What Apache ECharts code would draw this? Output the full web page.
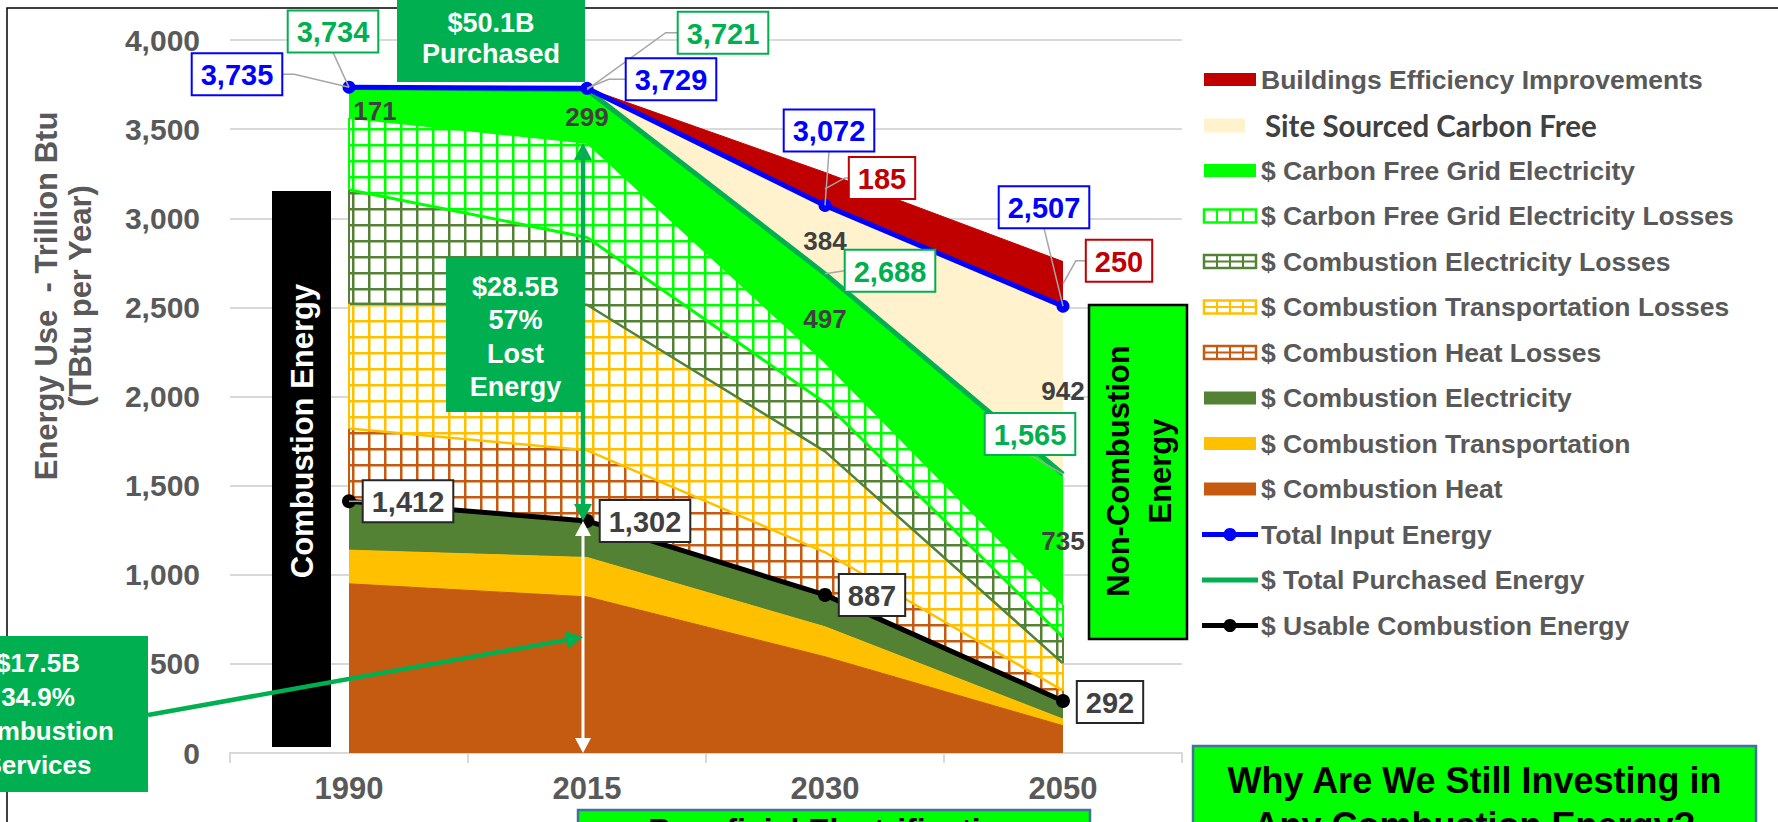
<!DOCTYPE html>
<html>
<head>
<meta charset="utf-8">
<title>Energy Use - Trillion Btu</title>
<script src="https://cdn.jsdelivr.net/npm/echarts/dist/echarts.min.js"></script>
<style>
  html, body { margin: 0; padding: 0; background: #ffffff; overflow: hidden; }
  #chart { width: 1778px; height: 822px; }
</style>
</head>
<body>
<div id="chart"></div>
<script>
// ---------- data (TBtu per year) ----------
const years = ['1990', '2015', '2030', '2050'];
const yAxisMin = 0;
const yAxisMax = 4000;
const yAxisStep = 500;

const combustionHeat = [949, 876, 540, 153];
const combustionTransportation = [189, 221, 168, 37];
const combustionElectricity = [274, 205, 179, 102];
const combustionHeatLosses = [408, 396, 239, 58];
const combustionTransportationLosses = [701, 817, 566, 153];
const combustionElectricityLosses = [639, 377, 273, 147];
const carbonFreeGridElectricityLosses = [403, 530, 226, 180];
const carbonFreeGridElectricity = [171, 299, 497, 735];
const siteSourcedCarbonFree = [1, 8, 384, 942];
const buildingsEfficiencyImprovements = [0, 0, 185, 250];

const totalInputEnergy = [3735, 3729, 3072, 2507];
const totalPurchasedEnergy = [3734, 3721, 2688, 1565];
const usableCombustionEnergy = [1412, 1302, 887, 292];

// ---------- styling ----------
const FONT = '"Liberation Sans", Arial, Helvetica, sans-serif';
const GRAY = '#595959';
const LABEL_DARK = '#404040';
const C = {
  heat: '#C55A11', transport: '#FFC000', elec: '#548235',
  cfGreen: '#00FF00', purchased: '#00B050', site: '#FFF2CC',
  red: '#C00000', blue: '#0000FF', black: '#000000', boxEdge: '#41719C'
};

const RENDERER = 'svg';

// square-grid hatch used by the "losses" layers (drawn at 2x, shown at 16px)
function hatchPattern(color) {
  const s = 32;
  const cv = document.createElement('canvas');
  cv.width = s; cv.height = s;
  const g = cv.getContext('2d');
  g.fillStyle = '#ffffff'; g.fillRect(0, 0, s, s);
  g.fillStyle = color;
  g.fillRect(0, 0, s, 5);
  g.fillRect(0, 0, 5, s);
  if (RENDERER === 'svg') {
    return { image: cv.toDataURL(), repeat: 'repeat', imageWidth: 16, imageHeight: 16 };
  }
  return { image: cv, repeat: 'repeat' };
}

// stacked layers, bottom to top
const layers = [
  { name: '$ Combustion Heat', values: combustionHeat, fill: C.heat, edge: C.heat, edgeWidth: 1 },
  { name: '$ Combustion Transportation', values: combustionTransportation, fill: C.transport, edge: C.transport, edgeWidth: 1 },
  { name: '$ Combustion Electricity', values: combustionElectricity, fill: C.elec, edge: C.elec, edgeWidth: 1 },
  { name: '$ Combustion Heat Losses', values: combustionHeatLosses, hatch: C.heat, edge: C.transport, edgeWidth: 2.5 },
  { name: '$ Combustion Transportation Losses', values: combustionTransportationLosses, hatch: C.transport, edge: C.elec, edgeWidth: 2.5 },
  { name: '$ Combustion Electricity Losses', values: combustionElectricityLosses, hatch: C.elec, edge: C.cfGreen, edgeWidth: 3 },
  { name: '$ Carbon Free Grid Electricity Losses', values: carbonFreeGridElectricityLosses, hatch: C.cfGreen, edge: C.cfGreen, edgeWidth: 1.5 },
  { name: '$ Carbon Free Grid Electricity', values: carbonFreeGridElectricity, fill: C.cfGreen, edge: C.cfGreen, edgeWidth: 1 },
  { name: 'Site Sourced Carbon Free', values: siteSourcedCarbonFree, fill: C.site, edge: C.site, edgeWidth: 1 },
  { name: 'Buildings Efficiency Improvements', values: buildingsEfficiencyImprovements, fill: C.red, edge: C.red, edgeWidth: 1 }
];

const areaSeries = layers.map((L, i) => ({
  type: 'line',
  name: L.name,
  data: L.values,
  stack: 'energy',
  z: 12 - i,
  symbol: 'none',
  silent: true,
  lineStyle: { color: L.edge, width: L.edgeWidth },
  areaStyle: { color: L.hatch ? hatchPattern(L.hatch) : L.fill, opacity: 1 },
  emphasis: { disabled: true }
}));

const lineSeries = [
  {
    type: 'line', name: '$ Total Purchased Energy', data: totalPurchasedEnergy, z: 19,
    symbol: 'none', silent: true, lineStyle: { color: C.purchased, width: 5 }, emphasis: { disabled: true }
  },
  {
    type: 'line', name: 'Total Input Energy', data: totalInputEnergy, z: 20,
    symbol: 'circle', symbolSize: 13, showSymbol: true, silent: true,
    itemStyle: { color: C.blue }, lineStyle: { color: C.blue, width: 5 }, emphasis: { disabled: true }
  },
  {
    type: 'line', name: '$ Usable Combustion Energy', data: usableCombustionEnergy, z: 20,
    symbol: 'circle', symbolSize: 14, showSymbol: true, silent: true,
    itemStyle: { color: C.black }, lineStyle: { color: C.black, width: 5 }, emphasis: { disabled: true }
  }
];

const chart = echarts.init(document.getElementById('chart'), null, { renderer: RENDERER, width: 1778, height: 822 });

chart.setOption({
  animation: false,
  backgroundColor: '#ffffff',
  grid: { left: 230, right: 596, top: 40, bottom: 69, containLabel: false, outerBoundsMode: 'none' },
  xAxis: {
    type: 'category', data: years, boundaryGap: true,
    axisLine: { lineStyle: { color: '#D9D9D9', width: 2 } },
    axisTick: { show: true, length: 10, lineStyle: { color: '#D9D9D9', width: 2 } },
    axisLabel: { color: GRAY, fontSize: 31, fontWeight: 'bold', fontFamily: FONT, margin: 20 },
    splitLine: { show: false }
  },
  yAxis: {
    type: 'value', min: yAxisMin, max: yAxisMax, interval: yAxisStep,
    axisLine: { show: false }, axisTick: { show: false },
    axisLabel: {
      color: GRAY, fontSize: 30, fontWeight: 'bold', fontFamily: FONT, margin: 30,
      formatter: v => v.toLocaleString('en-US')
    },
    splitLine: { lineStyle: { color: '#D9D9D9', width: 2 } }
  },
  series: areaSeries.concat(lineSeries)
});

// ---------- annotations placed through the axes ----------
const px = (i, v) => chart.convertToPixel({ gridIndex: 0 }, [i, v]);
const stackTop = (count, i) => layers.slice(0, count).reduce((s, L) => s + L.values[i], 0);
const fmt = v => v.toLocaleString('en-US');

const mctx = document.createElement('canvas').getContext('2d');
function textWidth(t, font) { mctx.font = font; return mctx.measureText(t).width; }

const G = [];
function text(str, x, y, font, fill, extra) {
  const o = Object.assign({ z: 60, rotation: 0, lineHeight: undefined }, extra || {});
  G.push({
    type: 'text', x: x, y: y, rotation: o.rotation, z: o.z, silent: true,
    style: {
      text: str, x: 0, y: 0, font: font, fill: fill,
      align: 'center', textAlign: 'center', verticalAlign: 'middle', textVerticalAlign: 'middle',
      lineHeight: o.lineHeight
    }
  });
}
function rect(x, y, w, h, fill, stroke, lw, z) {
  G.push({ type: 'rect', z: z || 55, silent: true, shape: { x: x, y: y, width: w, height: h },
    style: { fill: fill, stroke: stroke || null, lineWidth: lw || 0 } });
}
function polyline(points, color, lw, z) {
  G.push({ type: 'polyline', z: z || 65, silent: true, shape: { points: points },
    style: { stroke: color, lineWidth: lw, fill: null } });
}
function head(tip, from, len, width, color) {
  const dx = tip[0] - from[0], dy = tip[1] - from[1], d = Math.hypot(dx, dy);
  const ux = dx / d, uy = dy / d, nx = -uy, ny = ux;
  const bx = tip[0] - ux * len, by = tip[1] - uy * len;
  G.push({ type: 'polygon', z: 67, silent: true,
    shape: { points: [tip, [bx + nx * width / 2, by + ny * width / 2], [bx - nx * width / 2, by - ny * width / 2]] },
    style: { fill: color } });
}
function arrow(a, b, color, lw, len, width, both) {
  const d = Math.hypot(b[0] - a[0], b[1] - a[1]);
  const ux = (b[0] - a[0]) / d, uy = (b[1] - a[1]) / d;
  const a2 = both ? [a[0] + ux * len * 0.8, a[1] + uy * len * 0.8] : a;
  const b2 = [b[0] - ux * len * 0.8, b[1] - uy * len * 0.8];
  polyline([a2, b2], color, lw, 66);
  head(b, a, len, width, color);
  if (both) head(a, b, len, width, color);
}

// outer frame
rect(7, 8, 1800, 900, 'none', '#000000', 1.5, 40);

// vertical borders of the hatched layers at both ends
layers.forEach((L, k) => {
  if (!L.hatch) return;
  [0, years.length - 1].forEach(i => {
    const lo = px(i, stackTop(k, i)), hi = px(i, stackTop(k + 1, i));
    polyline([lo, hi], L.hatch, 2, 13);
  });
});

// value boxes with leader lines
const BOX_FONT = 'bold 29px ' + FONT;
function valueBox(str, anchor, dx, dy, color, edge, leader, elbow) {
  const w = textWidth(str, BOX_FONT) + 18, h = 42;
  const cx = anchor[0] + dx, cy = anchor[1] + dy;
  if (leader === 'left') polyline([[cx - w / 2, cy], [cx - w / 2 - elbow, cy], anchor], '#A6A6A6', 1.5, 64);
  if (leader === 'right') polyline([[cx + w / 2, cy], [cx + w / 2 + elbow, cy], anchor], '#A6A6A6', 1.5, 64);
  if (leader === 'bottom') polyline([[cx, cy + h / 2], anchor], '#A6A6A6', 1.5, 64);
  rect(cx - w / 2, cy - h / 2, w, h, '#ffffff', edge, 2, 70);
  text(str, cx, cy + 1, BOX_FONT, color, { z: 71 });
}

const redMid = i => totalInputEnergy[i] + buildingsEfficiencyImprovements[i] / 2;

valueBox(fmt(totalInputEnergy[0]), px(0, totalInputEnergy[0]), -112, -13, C.blue, C.blue, 'right', 12);
valueBox(fmt(totalInputEnergy[1]), px(1, totalInputEnergy[1]), 84, -9, C.blue, C.blue, 'left', 17);
valueBox(fmt(totalInputEnergy[2]), px(2, totalInputEnergy[2]), 4, -75, C.blue, C.blue, 'bottom');
valueBox(fmt(totalInputEnergy[3]), px(3, totalInputEnergy[3]), -19, -99, C.blue, C.blue, 'bottom');

valueBox(fmt(totalPurchasedEnergy[0]), px(0, totalPurchasedEnergy[0]), -16, -56, C.purchased, C.purchased, 'bottom');
valueBox(fmt(totalPurchasedEnergy[1]), px(1, totalPurchasedEnergy[1]), 136, -57, C.purchased, C.purchased, 'left', 12);
valueBox(fmt(totalPurchasedEnergy[2]), px(2, totalPurchasedEnergy[2]), 65, -3, C.purchased, C.purchased, 'left', 0);
valueBox(fmt(totalPurchasedEnergy[3]), px(3, totalPurchasedEnergy[3]), -33, -40, C.purchased, C.purchased, 'bottom');

valueBox(fmt(buildingsEfficiencyImprovements[2]), px(2, redMid(2)), 57, -11, C.red, C.red, 'left', 4);
valueBox(fmt(buildingsEfficiencyImprovements[3]), px(3, redMid(3)), 56, -23, C.red, C.red, 'left', 10);

valueBox(fmt(usableCombustionEnergy[0]), px(0, usableCombustionEnergy[0]), 59, 0, LABEL_DARK, '#262626', 'left', 0);
valueBox(fmt(usableCombustionEnergy[1]), px(1, usableCombustionEnergy[1]), 58, 0, LABEL_DARK, '#262626', 'none');
valueBox(fmt(usableCombustionEnergy[2]), px(2, usableCombustionEnergy[2]), 47, 0, LABEL_DARK, '#262626', 'none');
valueBox(fmt(usableCombustionEnergy[3]), px(3, usableCombustionEnergy[3]), 47, 1, LABEL_DARK, '#262626', 'none');

// plain labels centred in their bands
const PLAIN_FONT = 'bold 26px ' + FONT;
const cfBase = i => stackTop(7, i);
carbonFreeGridElectricity.forEach((v, i) => {
  const p = px(i, cfBase(i) + v / 2);
  text(String(v), p[0] + (i === 0 ? 26 : 0), p[1] + (i === 0 ? 8 : 1), PLAIN_FONT, LABEL_DARK, { z: 62 });
});
[2, 3].forEach(i => {
  const v = siteSourcedCarbonFree[i];
  const p = px(i, totalPurchasedEnergy[i] + v / 2);
  text(String(v), p[0], p[1] + 1, PLAIN_FONT, LABEL_DARK, { z: 62 });
});

// y-axis title
text('Energy Use  - Trillion Btu\n(TBtu per Year)', 63, 296, 'bold 31px ' + FONT, GRAY,
  { rotation: Math.PI / 2, lineHeight: 34, z: 60 });

// side panels
rect(272, 191, 59, 556, '#000000', null, 0, 55);
text('Combustion Energy', 302, 431, 'bold 31px ' + FONT, '#ffffff', { rotation: Math.PI / 2 });

rect(1089, 305, 98, 334, C.cfGreen, '#000000', 2.5, 55);
text('Non-Combustion\nEnergy', 1139, 471, 'bold 31px ' + FONT, '#000000', { rotation: Math.PI / 2, lineHeight: 42 });

rect(397, -4, 188, 86, C.purchased, null, 0, 56);
text('$50.1B\nPurchased', 491, 38, 'bold 27px ' + FONT, '#ffffff', { lineHeight: 31 });

rect(446, 258, 139, 154, C.purchased, null, 0, 56);
text('$28.5B\n57%\nLost\nEnergy', 515.5, 337, 'bold 27px ' + FONT, '#ffffff', { lineHeight: 33.3 });

rect(-80, 636, 228, 156, C.purchased, null, 0, 56);
text('$17.5B\n34.9%\nCombustion\nServices', 38, 714, 'bold 26px ' + FONT, '#ffffff', { lineHeight: 34 });

rect(578, 810, 512, 60, C.cfGreen, C.boxEdge, 2.5, 56);
text('Beneficial Electrification', 834, 830, 'bold 32px ' + FONT, '#000000');

rect(1193, 746, 563, 120, C.cfGreen, C.boxEdge, 2.5, 56);
text('Why Are We Still Investing in\nAny Combustion Energy?', 1474.5, 803, 'bold 36px ' + FONT, '#000000', { lineHeight: 45 });

// arrows at 2015
const xShift = -4;
const lostTop = px(1, stackTop(7, 1));
const usableP = px(1, usableCombustionEnergy[1]);
const zeroP = px(1, 0);
const midP = px(1, usableCombustionEnergy[1] / 2);
arrow([lostTop[0] + xShift, lostTop[1]], [usableP[0] + xShift, usableP[1]], C.purchased, 4.5, 17, 18, true);
arrow([usableP[0] + xShift, usableP[1]], [zeroP[0] + xShift, zeroP[1]], '#ffffff', 3, 15, 16, true);
arrow([148, 715], [midP[0] + xShift, midP[1]], C.purchased, 4.5, 17, 18, false);

// legend
const legendRows = [
  { name: layers[9].name, kind: 'solid', color: C.red },
  { name: layers[8].name, kind: 'site', color: C.site },
  { name: layers[7].name, kind: 'solid', color: C.cfGreen },
  { name: layers[6].name, kind: 'hatch', color: C.cfGreen, mid: false },
  { name: layers[5].name, kind: 'hatch', color: C.elec, mid: true },
  { name: layers[4].name, kind: 'hatch', color: C.transport, mid: true },
  { name: layers[3].name, kind: 'hatch', color: C.heat, mid: true },
  { name: layers[2].name, kind: 'solid', color: C.elec },
  { name: layers[1].name, kind: 'solid', color: C.transport },
  { name: layers[0].name, kind: 'solid', color: C.heat },
  { name: lineSeries[1].name, kind: 'line', color: C.blue, dot: true },
  { name: lineSeries[0].name, kind: 'line', color: C.purchased, dot: false },
  { name: lineSeries[2].name, kind: 'line', color: C.black, dot: true }
];
const LEG_FONT = 'bold 26.5px ' + FONT;
const siteBase = 'bold 30px Lato, "Open Sans", sans-serif';
const siteSize = 30 * 332 / textWidth('Site Sourced Carbon Free', siteBase);
legendRows.forEach((r, i) => {
  const y = 79.5 + i * 45.5;
  const x0 = 1204, w = 52, h = 13;
  if (r.kind === 'solid') rect(x0, y - h / 2, w, h, r.color, null, 0, 60);
  if (r.kind === 'site') rect(x0, y - h / 2, 41, h + 1, r.color, null, 0, 60);
  if (r.kind === 'hatch') {
    rect(x0, y - h / 2, w, h, '#ffffff', r.color, 2.5, 60);
    [13, 26, 39].forEach(dx => polyline([[x0 + dx, y - h / 2], [x0 + dx, y + h / 2]], r.color, 2, 61));
    if (r.mid) polyline([[x0, y], [x0 + w, y]], r.color, 2, 61);
  }
  if (r.kind === 'line') {
    polyline([[1202, y], [1258, y]], r.color, 5, 61);
    if (r.dot) G.push({ type: 'circle', z: 62, silent: true, shape: { cx: 1230, cy: y, r: 6.5 }, style: { fill: r.color } });
  }
  if (r.kind === 'site') {
    G.push({ type: 'text', x: 1265, y: y, z: 60, silent: true,
      style: { text: r.name, x: 0, y: 0, font: 'bold ' + siteSize.toFixed(2) + 'px Lato, "Open Sans", sans-serif', fill: LABEL_DARK,
        align: 'left', textAlign: 'left', verticalAlign: 'middle', textVerticalAlign: 'middle' } });
  } else {
    G.push({ type: 'text', x: 1261, y: y, z: 60, silent: true,
      style: { text: r.name, x: 0, y: 0, font: LEG_FONT, fill: GRAY,
        align: 'left', textAlign: 'left', verticalAlign: 'middle', textVerticalAlign: 'middle' } });
  }
});

chart.setOption({ graphic: { elements: G } });
</script>
</body>
</html>
